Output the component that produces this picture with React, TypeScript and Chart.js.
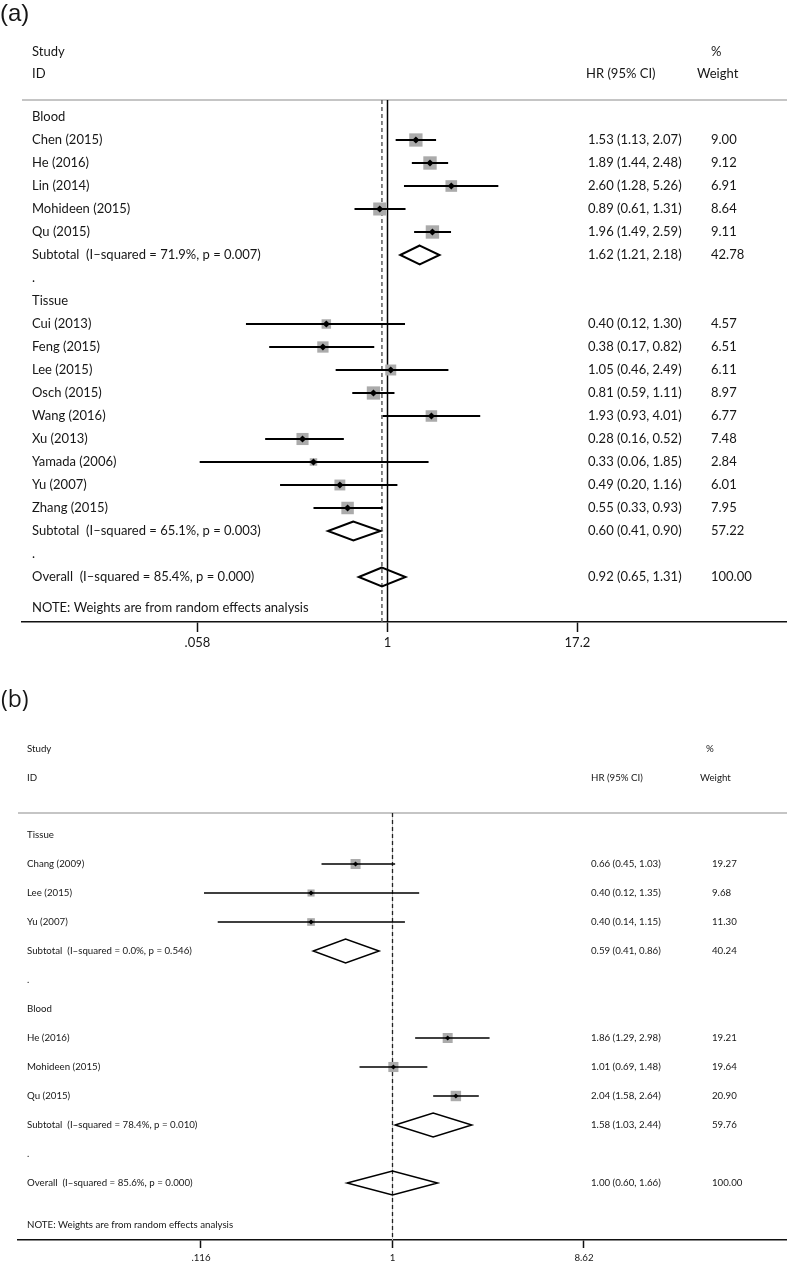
import React, { useEffect, useRef } from 'react';
import { Chart, registerables } from 'chart.js';

Chart.register(...registerables);

// ---------------- Panel (a) data ----------------
const A_LABELS = [
  'Blood', 'Chen (2015)', 'He (2016)', 'Lin (2014)', 'Mohideen (2015)', 'Qu (2015)',
  'Subtotal  (I\u2013squared = 71.9%, p = 0.007)', '.',
  'Tissue', 'Cui (2013)', 'Feng (2015)', 'Lee (2015)', 'Osch (2015)', 'Wang (2016)',
  'Xu (2013)', 'Yamada (2006)', 'Yu (2007)', 'Zhang (2015)',
  'Subtotal  (I\u2013squared = 65.1%, p = 0.003)', '.',
  'Overall  (I\u2013squared = 85.4%, p = 0.000)',
];
const A_KINDS = [
  'group', 'study', 'study', 'study', 'study', 'study', 'sub', 'blank',
  'group', 'study', 'study', 'study', 'study', 'study', 'study', 'study', 'study', 'study',
  'sub', 'blank', 'overall',
];
const A_HR = [null, 1.53, 1.89, 2.60, 0.89, 1.96, 1.62, null, null, 0.40, 0.38, 1.05, 0.81, 1.93, 0.28, 0.33, 0.49, 0.55, 0.60, null, 0.92];
const A_LO = [null, 1.13, 1.44, 1.28, 0.61, 1.49, 1.21, null, null, 0.12, 0.17, 0.46, 0.59, 0.93, 0.16, 0.06, 0.20, 0.33, 0.41, null, 0.65];
const A_HI = [null, 2.07, 2.48, 5.26, 1.31, 2.59, 2.18, null, null, 1.30, 0.82, 2.49, 1.11, 4.01, 0.52, 1.85, 1.16, 0.93, 0.90, null, 1.31];
const A_WEIGHT = [null, 9.00, 9.12, 6.91, 8.64, 9.11, 42.78, null, null, 4.57, 6.51, 6.11, 8.97, 6.77, 7.48, 2.84, 6.01, 7.95, 57.22, null, 100.00];
const A_TICKS = [0.058, 1, 17.2];
const A_TICK_LABELS = ['.058', '1', '17.2'];
const A_OVERALL = 0.92;

// ---------------- Panel (b) data ----------------
const B_LABELS = [
  'Tissue', 'Chang (2009)', 'Lee (2015)', 'Yu (2007)',
  'Subtotal  (I\u2013squared = 0.0%, p = 0.546)', '.',
  'Blood', 'He (2016)', 'Mohideen (2015)', 'Qu (2015)',
  'Subtotal  (I\u2013squared = 78.4%, p = 0.010)', '.',
  'Overall  (I\u2013squared = 85.6%, p = 0.000)',
];
const B_KINDS = ['group', 'study', 'study', 'study', 'sub', 'blank', 'group', 'study', 'study', 'study', 'sub', 'blank', 'overall'];
const B_HR = [null, 0.66, 0.40, 0.40, 0.59, null, null, 1.86, 1.01, 2.04, 1.58, null, 1.00];
const B_LO = [null, 0.45, 0.12, 0.14, 0.41, null, null, 1.29, 0.69, 1.58, 1.03, null, 0.60];
const B_HI = [null, 1.03, 1.35, 1.15, 0.86, null, null, 2.98, 1.48, 2.64, 2.44, null, 1.66];
const B_WEIGHT = [null, 19.27, 9.68, 11.30, 40.24, null, null, 19.21, 19.64, 20.90, 59.76, null, 100.00];
const B_TICKS = [0.116, 1, 8.62];
const B_TICK_LABELS = ['.116', '1', '8.62'];
const B_OVERALL = 1.00;

const NOTE = 'NOTE: Weights are from random effects analysis';

type PanelData = {
  labels: string[]; kinds: string[];
  hr: (number | null)[]; lo: (number | null)[]; hi: (number | null)[]; w: (number | null)[];
  ticks: number[]; tickLabels: string[]; overall: number;
};

const A_DATA: PanelData = { labels: A_LABELS, kinds: A_KINDS, hr: A_HR, lo: A_LO, hi: A_HI, w: A_WEIGHT, ticks: A_TICKS, tickLabels: A_TICK_LABELS, overall: A_OVERALL };
const B_DATA: PanelData = { labels: B_LABELS, kinds: B_KINDS, hr: B_HR, lo: B_LO, hi: B_HI, w: B_WEIGHT, ticks: B_TICKS, tickLabels: B_TICK_LABELS, overall: B_OVERALL };

// ---------------- layout / style ----------------
const WIDTH = 787;
const A_LAYOUT = {
  top: 0, height: 662, left: 22, areaTop: 100, areaBottom: 622,
  row0: 117, rowStep: 23, unitPx: 387.5, pxPerLn: 66.76,
  noteRow: 21.35, studyRow: -2.83, idRow: -1.87,
  font: 'Lato', fontSize: 13,
  colStudy: 32, colHR: 588, colW: 711, hdrHR: 586, hdrPct: 711, hdrW: 697,
  boxK: 4.43, dotR: 3.6, ciW: 2, diamondW: 2, diamondHalf: 0.413,
  axisH: 40, tickLen: 10, tickPad: 3,
  title: '(a)', titleFont: '24px "Liberation Sans"', titleX: 0, titleY: 14,
  solidColor: '#000', solidW: 1.5, dashColor: '#5e5e5e', dashW: 1.5,
};
const B_LAYOUT = {
  top: 660, height: 602, left: 18, areaTop: 153, areaBottom: 580,
  row0: 175, rowStep: 29, unitPx: 392.5, pxPerLn: 88.9,
  noteRow: 13.45, studyRow: -2.97, idRow: -1.97,
  font: 'Lato', fontSize: 9.7,
  colStudy: 27, colHR: 591, colW: 712, hdrHR: 591, hdrPct: 706, hdrW: 700,
  boxK: 2.28, dotR: 2.6, ciW: 1.5, diamondW: 1.5, diamondHalf: 0.41,
  axisH: 22, tickLen: 8, tickPad: 4,
  title: '(b)', titleFont: '23px "Open Sans"', titleX: 1, titleY: 40,
  solidColor: '#c4c4c4', solidW: 1, dashColor: '#222', dashW: 1.3,
};
type Layout = typeof A_LAYOUT;

const TEXT = '#161616';
const BOX = '#ababab';

function makeChart(canvas: HTMLCanvasElement, d: PanelData, L: Layout) {
  const xMin = Math.exp((L.left - L.unitPx) / L.pxPerLn);
  const xMax = Math.exp((WIDTH - L.unitPx) / L.pxPerLn);
  const yMin = (L.areaTop - L.row0) / L.rowStep;
  const yMax = (L.areaBottom - L.row0) / L.rowStep;
  const idx = d.labels.map((_, i) => i);
  const studies = idx.filter((i) => d.kinds[i] === 'study');
  const pooled = idx.filter((i) => d.kinds[i] === 'sub' || d.kinds[i] === 'overall');

  const boxData = studies.map((i) => ({ x: d.hr[i] as number, y: i }));
  const boxRadius = studies.map((i) => (L.boxK * Math.sqrt(d.w[i] as number)) / (2 * Math.SQRT1_2));
  const ciData: { x: number; y: number | null }[] = [];
  studies.forEach((i) => {
    ciData.push({ x: d.lo[i] as number, y: i }, { x: d.hi[i] as number, y: i }, { x: 1, y: null });
  });
  const diaData: { x: number; y: number | null }[] = [];
  pooled.forEach((i) => {
    const h = L.diamondHalf;
    const e = d.hr[i] as number, lo = d.lo[i] as number, hi = d.hi[i] as number;
    diaData.push({ x: lo, y: i }, { x: e, y: i - h }, { x: hi, y: i }, { x: e, y: i + h }, { x: lo, y: i }, { x: e, y: i - h }, { x: 1, y: null });
  });

  const font = `${L.fontSize}px ${L.font}`;

  const textPlugin = {
    id: 'forestText',
    beforeDatasetsDraw(chart: any) {
      const { ctx, chartArea } = chart;
      ctx.save();
      ctx.strokeStyle = '#b2b2b2';
      ctx.lineWidth = 1.5;
      ctx.beginPath();
      ctx.moveTo(chartArea.left, chartArea.top);
      ctx.lineTo(chartArea.right, chartArea.top);
      ctx.stroke();
      ctx.restore();
    },
    afterDraw(chart: any) {
      const { ctx } = chart;
      const ys = chart.scales.y;
      ctx.save();
      ctx.fillStyle = TEXT;
      ctx.textBaseline = 'middle';
      ctx.textAlign = 'left';
      ctx.font = L.titleFont;
      ctx.fillText(L.title, L.titleX, L.titleY);
      ctx.font = font;
      ctx.fillText('Study', L.colStudy, ys.getPixelForValue(L.studyRow));
      ctx.fillText('ID', L.colStudy, ys.getPixelForValue(L.idRow));
      ctx.fillText('HR (95% CI)', L.hdrHR, ys.getPixelForValue(L.idRow));
      ctx.fillText('%', L.hdrPct, ys.getPixelForValue(L.studyRow));
      ctx.fillText('Weight', L.hdrW, ys.getPixelForValue(L.idRow));
      d.labels.forEach((lab, i) => {
        const y = ys.getPixelForValue(i);
        ctx.fillText(lab, L.colStudy, y);
        const e = d.hr[i];
        if (e !== null) {
          const s = `${e.toFixed(2)} (${(d.lo[i] as number).toFixed(2)}, ${(d.hi[i] as number).toFixed(2)})`;
          ctx.fillText(s, L.colHR, y);
          ctx.fillText((d.w[i] as number).toFixed(2), L.colW, y);
        }
      });
      ctx.fillText(NOTE, L.colStudy, ys.getPixelForValue(L.noteRow));
      ctx.restore();
    },
  };

  return new Chart(canvas, {
    type: 'line',
    data: {
      datasets: [
        {
          label: 'null', data: [{ x: 1, y: yMin }, { x: 1, y: yMax }],
          borderColor: L.solidColor, borderWidth: L.solidW, pointRadius: 0, order: 10,
        },
        {
          label: 'overall', data: [{ x: d.overall, y: yMin }, { x: d.overall, y: yMax }],
          borderColor: L.dashColor, borderWidth: L.dashW, borderDash: [4, 3], pointRadius: 0, order: 9,
        },
        {
          label: 'boxes', data: boxData, showLine: false, pointStyle: 'rect',
          pointRadius: (c: any) => boxRadius[c.dataIndex] ?? 0,
          pointBackgroundColor: BOX, pointBorderColor: BOX, pointBorderWidth: 0, order: 8,
        },
        {
          label: 'ci', data: ciData, borderColor: '#000', borderWidth: L.ciW, borderCapStyle: 'butt',
          pointRadius: 0, spanGaps: false, order: 7,
        },
        {
          label: 'dots', data: boxData, showLine: false, pointStyle: 'rectRot', pointRadius: L.dotR,
          pointBackgroundColor: '#000', pointBorderColor: '#000', pointBorderWidth: 0, order: 6,
        },
        {
          label: 'diamonds', data: diaData, borderColor: '#000', borderWidth: L.diamondW,
          borderJoinStyle: 'miter', pointRadius: 0, spanGaps: false, fill: false, order: 5,
        },
      ] as any,
    },
    options: {
      animation: false,
      responsive: false,
      devicePixelRatio: 1,
      events: [],
      layout: { autoPadding: false, padding: { left: L.left, right: 0, top: L.areaTop, bottom: 0 } },
      plugins: { legend: { display: false }, tooltip: { enabled: false } },
      elements: { line: { tension: 0 } },
      scales: {
        x: {
          type: 'logarithmic', position: 'bottom', min: xMin, max: xMax, bounds: 'data',
          afterBuildTicks: (s: any) => { s.ticks = d.ticks.map((v) => ({ value: v })); },
          afterFit: (s: any) => { s.height = L.axisH; s.paddingLeft = 0; s.paddingRight = 0; s.paddingTop = 0; s.paddingBottom = 0; },
          ticks: {
            autoSkip: false, maxRotation: 0, minRotation: 0, padding: L.tickPad, color: TEXT,
            font: { family: L.font, size: L.fontSize },
            callback: (_v: any, i: number) => d.tickLabels[i],
          },
          grid: { drawOnChartArea: false, drawTicks: true, tickLength: L.tickLen, tickWidth: 1.5, tickColor: '#111' },
          border: { display: true, color: '#111', width: 1.5 },
        },
        y: { type: 'linear', display: false, reverse: true, min: yMin, max: yMax, bounds: 'data' },
      },
    } as any,
    plugins: [textPlugin],
  });
}

function ForestPanel({ d, L }: { d: PanelData; L: Layout }) {
  const ref = useRef<HTMLCanvasElement>(null);
  useEffect(() => {
    const chart = makeChart(ref.current as HTMLCanvasElement, d, L);
    return () => chart.destroy();
  }, []);
  return (
    <canvas
      ref={ref}
      width={WIDTH}
      height={L.height}
      style={{ position: 'absolute', left: 0, top: L.top, width: WIDTH, height: L.height, display: 'block' }}
    />
  );
}

export default function App() {
  return (
    <div style={{ position: 'absolute', left: 0, top: 0, width: WIDTH, height: 1262, background: '#fff', overflow: 'hidden' }}>
      <ForestPanel d={A_DATA} L={A_LAYOUT} />
      <ForestPanel d={B_DATA} L={B_LAYOUT as Layout} />
    </div>
  );
}
